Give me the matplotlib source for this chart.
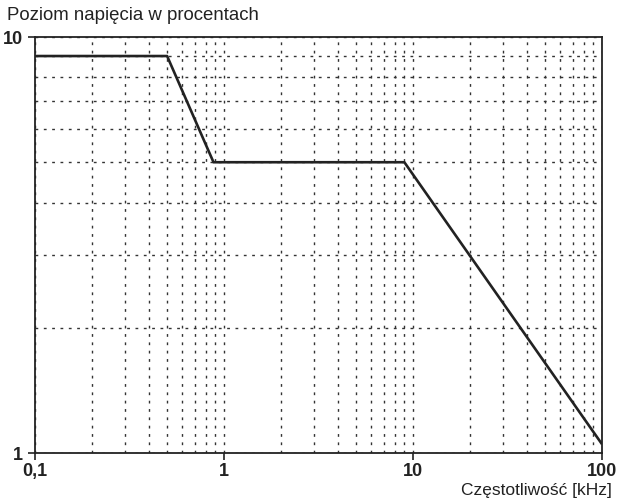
import matplotlib
matplotlib.use('Agg')
import matplotlib.pyplot as plt
from matplotlib.ticker import FixedLocator, NullFormatter

plt.rcParams['font.family'] = ['Liberation Sans', 'DejaVu Sans']

# frequency in kHz and relative level in percent
freq_khz = [0.1, 0.5, 0.88, 9.0, 100]
level_pct = [9.0, 9.0, 5.0, 5.0, 1.05]

x_ticks = [0.1, 1, 10, 100]
x_labels = ['0,1', '1', '10', '100']
y_ticks = [1, 10]
y_labels = ['1', '10']

fig = plt.figure(figsize=(6.21, 4.99), dpi=100)
ax = fig.add_axes([35 / 621, 1 - 453 / 499, 567 / 621, 416 / 499])

ax.plot(freq_khz, level_pct, color='#222222', lw=1.9, solid_capstyle='butt')

ax.set_xscale('log')
ax.set_yscale('log')
ax.set_xlim(0.1, 100)
ax.set_ylim(1, 10)

ax.xaxis.set_major_locator(FixedLocator(x_ticks))
ax.set_xticklabels(x_labels)
ax.yaxis.set_major_locator(FixedLocator(y_ticks))
ax.set_yticklabels(y_labels)
ax.xaxis.set_minor_formatter(NullFormatter())
ax.yaxis.set_minor_formatter(NullFormatter())

ax.tick_params(which='major', length=5, width=1.2, labelsize=13, color='#222222')
ax.tick_params(axis='x', which='major', pad=2)
ax.tick_params(axis='y', which='major', pad=4)
ax.tick_params(which='minor', length=0)
for lab in ax.get_xticklabels() + ax.get_yticklabels():
    lab.set_fontweight('bold')
    lab.set_color('#222222')

ax.grid(True, which='both', color='#333333', linestyle=(0, (2, 4)), linewidth=1.0)

for sp in ax.spines.values():
    sp.set_linewidth(1.3)
    sp.set_color('#222222')

fig.text(7 / 621, 1 - 16 / 499, 'Poziom napięcia w procentach', fontsize=13.4,
         va='center', ha='left', color='#222222')
fig.text(612 / 621, 1 - 490 / 499, 'Częstotliwość [kHz]', fontsize=12.5,
         va='center', ha='right', color='#222222')

fig.savefig('out.png', dpi=100)
